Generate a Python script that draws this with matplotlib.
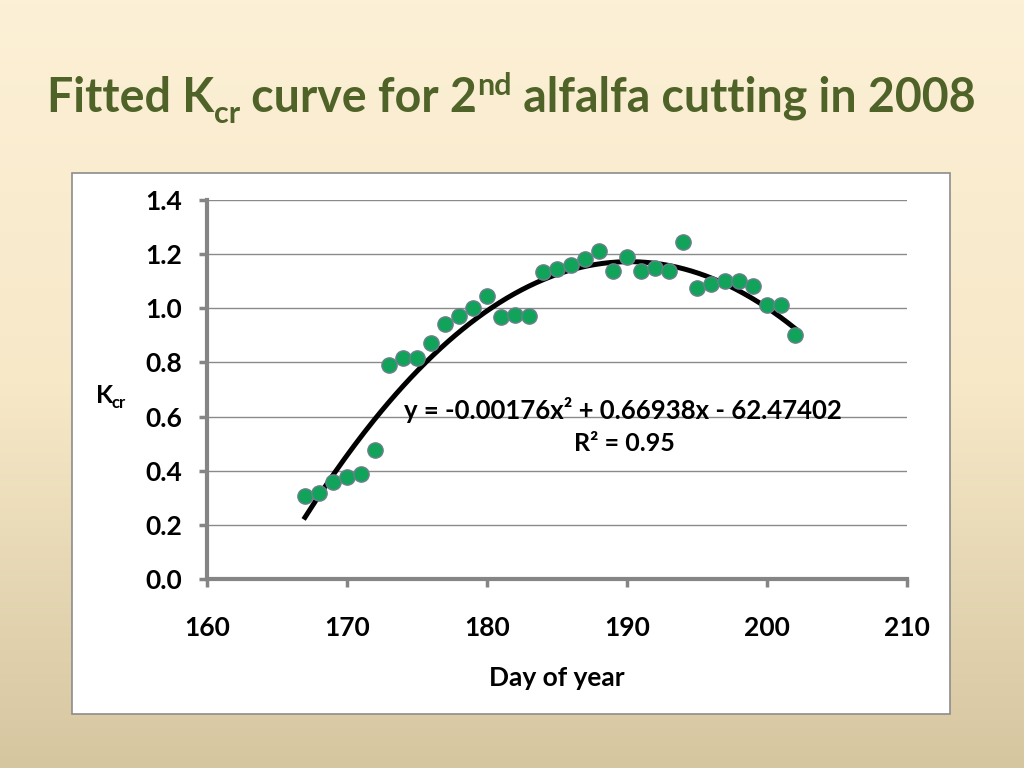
import numpy as np
import matplotlib
matplotlib.use("Agg")
import matplotlib.pyplot as plt
from matplotlib.colors import LinearSegmentedColormap
from matplotlib.patches import Rectangle

plt.rcParams['font.family'] = ['Lato', 'DejaVu Sans']

# Kcr measurements, 2nd alfalfa cutting 2008
days = [167, 168, 169, 170, 171, 172, 173, 174, 175, 176, 177, 178,
        179, 180, 181, 182, 183, 184, 185, 186, 187, 188, 189, 190,
        191, 192, 193, 194, 195, 196, 197, 198, 199, 200, 201, 202]
kcr = [0.307, 0.318, 0.358, 0.377, 0.388, 0.477, 0.790, 0.816, 0.816, 0.872, 0.942, 0.971,
       1.001, 1.045, 0.968, 0.975, 0.971, 1.134, 1.145, 1.160, 1.182, 1.212, 1.138, 1.190,
       1.138, 1.149, 1.138, 1.245, 1.075, 1.090, 1.100, 1.100, 1.082, 1.012, 1.012, 0.900]

# trendline coefficients as printed on the chart
coeffs = [-0.00176, 0.66938, -62.47402]
r2 = 0.95

W, H = 1024, 768
fig = plt.figure(figsize=(W / 100, H / 100), dpi=100)

# gradient background
bg = fig.add_axes([0, 0, 1, 1], zorder=-10)
grad = np.linspace(0, 1, 256).reshape(-1, 1)
cmap = LinearSegmentedColormap.from_list('bg', ['#FCF0D6', '#F7E8C8', '#D6C6A0'])
bg.imshow(grad, aspect='auto', cmap=cmap, extent=[0, 1, 0, 1], origin='upper')
bg.set_axis_off()

# white chart box
fig.patches.append(Rectangle((72 / W, 1 - 714 / H), (950 - 72) / W, (714 - 173) / H,
                             transform=fig.transFigure, facecolor='white',
                             edgecolor='#8C8C8C', linewidth=1.2, zorder=-5))

ax = fig.add_axes([207 / W, 1 - 579 / H, (907 - 207) / W, (579 - 200) / H])
ax.set_facecolor('none')

xs = np.linspace(days[0], days[-1], 200)
ax.plot(xs, np.polyval(coeffs, xs), color='black', linewidth=3.6, zorder=2)
ax.plot(days, kcr, 'o', markersize=11, markerfacecolor='#12A35A',
        markeredgecolor='#6A7F8C', markeredgewidth=1.0, zorder=3)

ax.set_xlim(160, 210)
ax.set_ylim(0, 1.4)
ax.set_xticks(range(160, 211, 10))
ax.set_yticks(np.arange(0, 1.41, 0.2))
ax.set_yticklabels([f'{v:.1f}' for v in np.arange(0, 1.41, 0.2)])
ax.grid(axis='y', color='#8A8A8A', linewidth=1.0)
ax.set_axisbelow(True)

for s in ['top', 'right']:
    ax.spines[s].set_visible(False)
for s in ['left', 'bottom']:
    ax.spines[s].set_color('#858585')
    ax.spines[s].set_linewidth(3)
ax.tick_params(axis='both', direction='out', length=6, width=2.5, color='#858585',
               labelsize=19, labelcolor='black')
ax.tick_params(axis='y', pad=12)
ax.tick_params(axis='x', pad=21)
for lab in ax.get_xticklabels() + ax.get_yticklabels():
    lab.set_fontweight('bold')

ax.set_xlabel('Day of year', fontsize=19, fontweight='bold', labelpad=18)

# y label K_cr
fig.text(96 / W, 1 - 403 / H, 'K', fontsize=18, fontweight='bold', ha='left', va='baseline')
fig.text(112 / W, 1 - 408 / H, 'cr', fontsize=12, fontweight='bold', ha='left', va='baseline')

# equation
ax.text(174.1, 0.625, 'y = -0.00176x² + 0.66938x - 62.47402', fontsize=18.5,
        fontweight='bold', ha='left', va='center')
ax.text(189.8, 0.50, f'R² = {r2:.2f}', fontsize=18, fontweight='bold',
        ha='center', va='center')

# title built from pieces (subscript / superscript)
fig.canvas.draw()
renderer = fig.canvas.get_renderer()
title_color = '#4F6228'
pieces = [('Fitted K', 33.5, 0), ('cr', 22, -11), (' curve for 2', 33.5, 0),
          ('nd', 22, 17), (' alfalfa cutting in 2008', 33.5, 0)]
x = 47
base = 112
for txt, size, shift in pieces:
    t = fig.text(x / W, 1 - (base - shift) / H, txt, fontsize=size, fontweight='bold',
                 color=title_color, ha='left', va='baseline')
    bb = t.get_window_extent(renderer)
    x += bb.width

fig.savefig('out.png', dpi=100)
